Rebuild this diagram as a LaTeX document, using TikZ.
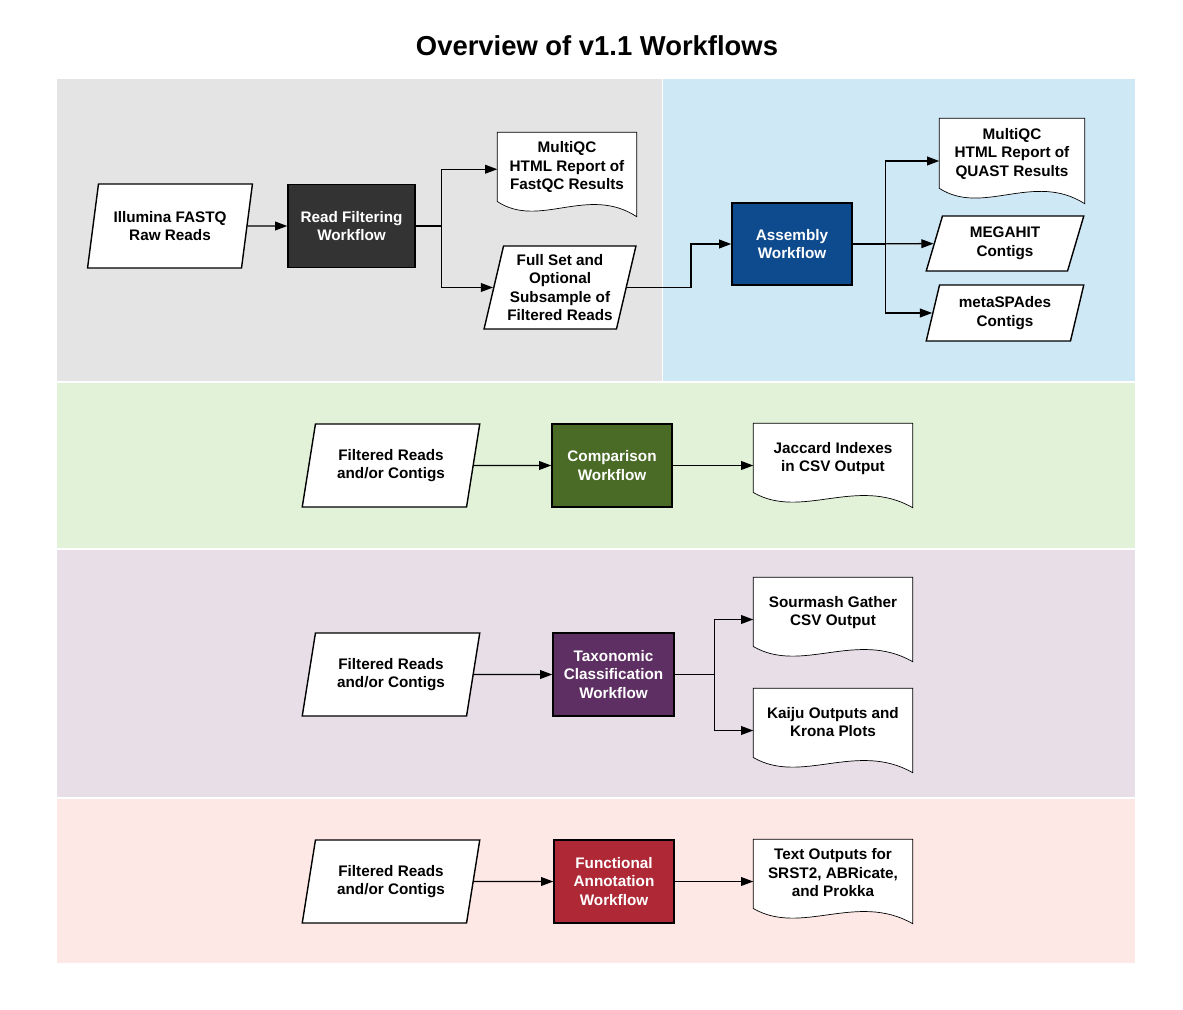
\documentclass[tikz,border=0pt]{standalone}
\usepackage{fontspec}
\setmainfont{Liberation Sans}
\usetikzlibrary{positioning, arrows.meta, shapes.geometric, backgrounds, calc}

\definecolor{pgray}{HTML}{E4E4E4}
\definecolor{pblue}{HTML}{CFE8F5}
\definecolor{pgreen}{HTML}{E2F2D8}
\definecolor{ppurple}{HTML}{E8DEE8}
\definecolor{ppink}{HTML}{FDE8E6}
\definecolor{wfdark}{HTML}{333333}
\definecolor{wfblue}{HTML}{0E4A8E}
\definecolor{wfgreen}{HTML}{4A6B25}
\definecolor{wfpurple}{HTML}{5E2F62}
\definecolor{wfred}{HTML}{AE2836}

\begin{document}
\begin{tikzpicture}
        [x=0.02cm, y=-0.02cm, line width=0.8pt,
         every node/.style={font=\fontsize{8.7}{10.5}\selectfont\bfseries, align=center},
         io/.style={trapezium, trapezium left angle=75, trapezium right angle=105,
           trapezium stretches=true, draw=black, fill=white, inner sep=1pt,
           minimum width=3.56cm, minimum height=1.66cm},
         wf/.style={rectangle, draw=black, text=white, minimum width=2.4cm, minimum height=1.66cm},
         doc/.style={rectangle, minimum width=3.16cm, minimum height=1.66cm, text depth=10pt},
         docline/.style={draw=black, fill=white},
         >={Triangle[length=7pt, width=5pt]}]
        \useasboundingbox (0,0) rectangle (1183,1010);

        \node[font=\fontsize{15.6}{18}\selectfont\bfseries] (title) at (597,46) {Overview of v1.1 Workflows};

        % assembly row
        \node[io, minimum width=3.32cm, minimum height=1.68cm] (ill) at (170,226) {Illumina FASTQ\\Raw Reads};
        \node[wf, fill=wfdark, minimum width=2.54cm] (rf) at (351.5,226) {Read Filtering\\Workflow};
        \node[doc, minimum width=2.76cm] (mqc) at (567,174.5) {MultiQC\\HTML Report of\\FastQC Results};
        \node[io, minimum width=3.04cm] (full) at (560,287.5) {Full Set and\\Optional\\Subsample of\\Filtered Reads};
        \node[wf, fill=wfblue, minimum height=1.64cm] (asm) at (792,244) {Assembly\\Workflow};
        \node[doc, minimum width=2.88cm, minimum height=1.68cm] (quast) at (1012,161) {MultiQC\\HTML Report of\\QUAST Results};
        \node[io, minimum width=3.16cm, minimum height=1.1cm] (mega) at (1005,243.5) {MEGAHIT\\Contigs};
        \node[io, minimum width=3.16cm, minimum height=1.12cm] (spa) at (1005,313) {metaSPAdes\\Contigs};

        % comparison row
        \node[io] (cin) at (391,465.5) {Filtered Reads\\and/or Contigs};
        \node[wf, fill=wfgreen] (cmp) at (612,465.5) {Comparison\\Workflow};
        \node[doc] (jac) at (833,465.5) {Jaccard Indexes\\in CSV Output};

        % taxonomic row
        \node[io] (tin) at (391,674.5) {Filtered Reads\\and/or Contigs};
        \node[wf, fill=wfpurple, minimum width=2.42cm] (tax) at (613.5,674.5) {Taxonomic\\Classification\\Workflow};
        \node[doc] (sour) at (833,619.5) {Sourmash Gather\\CSV Output};
        \node[doc] (kai) at (833,730.5) {Kaiju Outputs and\\Krona Plots};

        % functional row
        \node[io] (fin) at (391,881.5) {Filtered Reads\\and/or Contigs};
        \node[wf, fill=wfred] (fun) at (614,881.5) {Functional\\Annotation\\Workflow};
        \node[doc] (txt) at (833,881.5) {Text Outputs for\\SRST2, ABRicate,\\and Prokka};

        \path [->] (ill) edge (rf);
        \draw [->] (rf.east) -- ++(26,0) |- ([yshift=3pt]mqc.west);
        \draw [->] (rf.east) -- ++(26,0) |- (full.west);
        \draw [->] (full.east) -- ++(64,0) |- (asm.west);
        \draw [->] (asm.east) -- ++(33,0) |- (quast.west);
        \path [->] (asm) edge (mega);
        \draw [->] (asm.east) -- ++(33,0) |- (spa.west);
        \path [->] (cin) edge (cmp);
        \path [->] (cmp) edge (jac);
        \path [->] (tin) edge (tax);
        \draw [->] (tax.east) -- ++(40,0) |- (sour.west);
        \draw [->] (tax.east) -- ++(40,0) |- (kai.west);
        \path [->] (fin) edge (fun);
        \path [->] (fun) edge (txt);

        \begin{scope}[on background layer]
            \fill[pgray] (57,79) rectangle (662,381);
            \fill[pblue] (663,79) rectangle (1135,381);
            \fill[pgreen] (57,383) rectangle (1135,548);
            \fill[ppurple] (57,550) rectangle (1135,797);
            \fill[ppink] (57,799) rectangle (1135,963);
            \foreach \d in {mqc, quast, jac, sour, kai, txt}
                \draw[docline] let \p1=(\d.north west), \p2=(\d.south east) in
                    (\p1) -- (\x2,\y1) -- (\p2)
                    .. controls ({\x1+0.65*(\x2-\x1)},{\y1+0.62*(\y2-\y1)}) and ({\x1+0.3*(\x2-\x1)},{\y1+1.15*(\y2-\y1)})
                    .. (\x1,{\y1+0.82*(\y2-\y1)}) -- cycle;
        \end{scope}
    \end{tikzpicture}
\end{document}
